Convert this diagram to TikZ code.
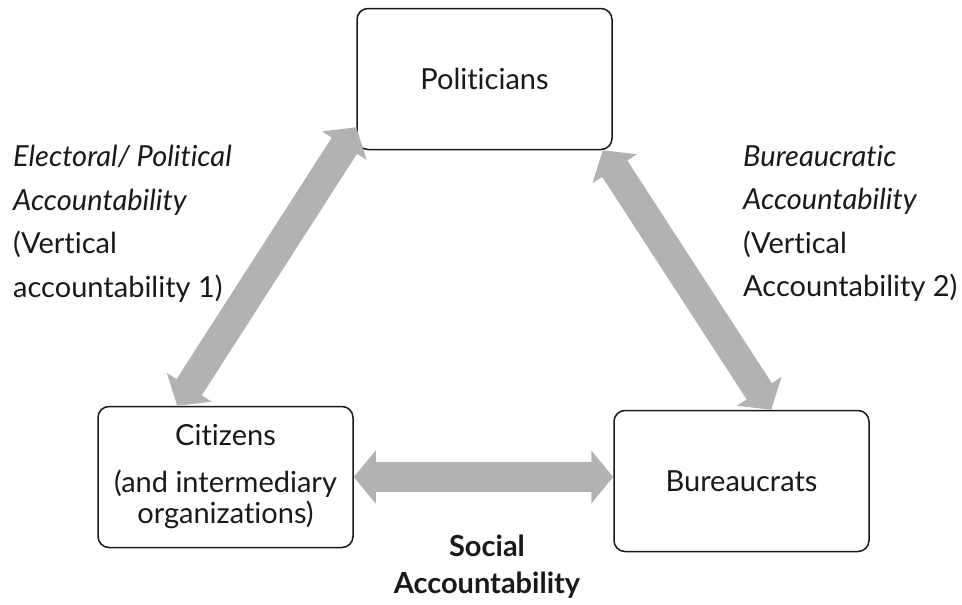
\documentclass[tikz,border=0pt]{standalone}
\usepackage{fontspec}
\setmainfont{Lato}[Ligatures={NoCommon}]
\usetikzlibrary{arrows.meta,calc}
\definecolor{arrowgray}{RGB}{178,178,181}
\definecolor{inkgray}{RGB}{25,25,25}
\tikzset{>=stealth,
  box/.style={draw=inkgray, line width=1.5pt, rounded corners=11pt, minimum width=255pt, minimum height=141pt, align=center, text=inkgray, font=\fontsize{29}{31}\selectfont},
  fat/.style={draw=arrowgray, line width=30pt, {Triangle[width=52pt,length=22pt]}-{Triangle[width=52pt,length=22pt]}},
  lbl/.style={align=left, anchor=north west, inner sep=0pt, text=inkgray, font=\fontsize{29}{43.5}\selectfont}}

\begin{document}
\begin{tikzpicture}[x=1pt,y=-1pt]
    \useasboundingbox (0,0) rectangle (962,605);
    \node[box] (pol) at (484.5,79) {Politicians};
    \node[box] (cit) at (225.5,477) {Citizens\\[16pt] (and intermediary\\ organizations)};
    \node[box] (bur) at (741.5,481) {Bureaucrats};
    \draw[fat] ([xshift=80pt]cit.north west) -- ([yshift=23pt]pol.south west);
    \draw[fat] ([xshift=-10pt]pol.south east) -- ([xshift=158pt]bur.north west);
    \draw[fat] (cit.east) -- (cit.east -| bur.west);
    \node[lbl] (vert1) at (13,145) {\itshape Electoral/ Political\\ \itshape Accountability\\ (Vertical\\ accountability 1)};
    \node[lbl] (vert2) at (743,145) {\itshape Bureaucratic\\ \itshape Accountability\\ (Vertical\\ Accountability 2)};
    \node[align=center, text=inkgray, font=\fontsize{29}{37}\bfseries\selectfont] (soc) at (487,567) {Social\\ Accountability};
\end{tikzpicture}
\end{document}
